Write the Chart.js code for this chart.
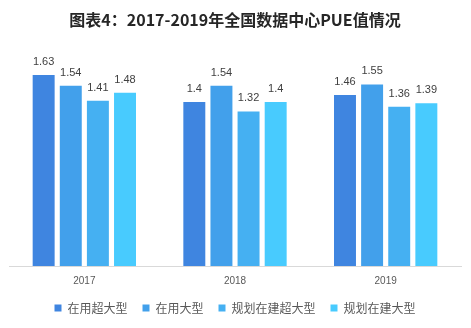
<!DOCTYPE html>
<html>
<head>
<meta charset="utf-8">
<script src="https://cdn.jsdelivr.net/npm/chart.js@4/dist/chart.umd.min.js"></script>
<style>
html,body{margin:0;padding:0;background:#fff;}
#wrap{width:471px;height:328px;position:relative;}
</style>
</head>
<body>
<div id="wrap"><canvas id="c" width="471" height="328"></canvas></div>
<script>
const categories = ['2017', '2018', '2019'];
const seriesNames = ['在用超大型', '在用大型', '规划在建超大型', '规划在建大型'];
const inUseHyper = [1.63, 1.40, 1.46];
const inUseLarge = [1.54, 1.54, 1.55];
const plannedHyper = [1.41, 1.32, 1.36];
const plannedLarge = [1.48, 1.40, 1.39];
const colors = ['#3F85E0', '#42A0EB', '#45B0F2', '#48CBFE'];
const titleText = '图表4：2017-2019年全国数据中心PUE值情况';

const valueLabels = {
  id: 'valueLabels',
  afterDatasetsDraw(chart) {
    const ctx = chart.ctx;
    ctx.save();
    ctx.font = '11px "Liberation Sans", Arial, sans-serif';
    ctx.fillStyle = '#404040';
    ctx.textAlign = 'center';
    ctx.textBaseline = 'alphabetic';
    chart.data.datasets.forEach((ds, i) => {
      const meta = chart.getDatasetMeta(i);
      meta.data.forEach((el, j) => {
        ctx.fillText(String(ds.data[j]), el.x, el.y - 10);
      });
    });
    ctx.restore();
  }
};

const seriesData = [inUseHyper, inUseLarge, plannedHyper, plannedLarge];

new Chart(document.getElementById('c'), {
  type: 'bar',
  data: {
    labels: categories,
    datasets: seriesNames.map((n, i) => ({
      label: n,
      data: seriesData[i],
      backgroundColor: colors[i],
      borderWidth: 0,
      categoryPercentage: 0.72,
      barPercentage: 0.81
    }))
  },
  options: {
    responsive: false,
    animation: false,
    devicePixelRatio: 1,
    layout: { padding: { left: 9, right: 10, top: 0, bottom: 4 } },
    plugins: {
      title: {
        display: true,
        text: titleText,
        color: '#262626',
        font: { family: '"Noto Sans CJK SC", sans-serif', size: 16, weight: 'bold' },
        padding: { top: 10, bottom: 26 }
      },
      legend: {
        position: 'bottom',
        labels: {
          boxWidth: 7,
          boxHeight: 7,
          padding: 15,
          color: '#595959',
          font: { family: '"Noto Sans CJK SC", sans-serif', size: 12 }
        }
      },
      tooltip: { enabled: false }
    },
    scales: {
      x: {
        grid: { display: false, drawTicks: false, tickLength: 0 },
        border: { display: true, color: '#d9d9d9', width: 1 },
        ticks: {
          color: '#595959',
          padding: 9,
          font: { family: '"Liberation Sans Narrow", "Liberation Sans", Arial, sans-serif', size: 10 }
        },
        afterFit(scale) { scale.height = 21; }
      },
      y: {
        display: false,
        min: 0,
        max: 1.8
      }
    }
  },
  plugins: [valueLabels]
});
</script>
</body>
</html>
